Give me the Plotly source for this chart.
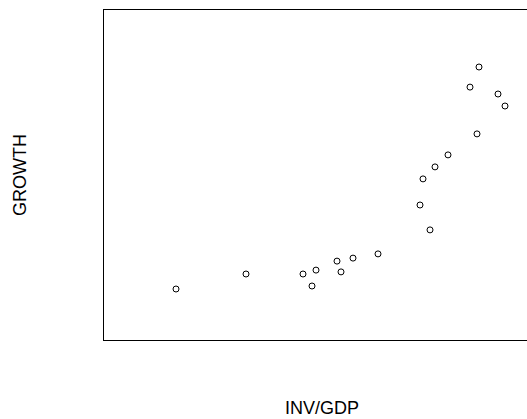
import plotly.graph_objects as go

# INV/GDP (%) and GROWTH (%) values
inv_gdp = [12.2, 19.2, 24.9, 26.2, 25.8, 28.3, 28.7, 29.9, 32.4, 36.6,
           36.9, 37.6, 38.1, 39.4, 42.3, 41.6, 42.5, 44.4, 45.1]
growth = [-0.30, 0.20, 0.20, 0.33, -0.20, 0.63, 0.27, 0.73, 0.87, 2.50,
          3.37, 1.67, 3.77, 4.17, 4.87, 6.43, 7.10, 6.20, 5.80]

x_title = "INV/GDP"
y_title = "GROWTH"

W, H = 527, 419
L, R, T, B = 104, 0, 10, 79
pw, ph = W - L - R, H - T - B

fig = go.Figure(go.Scatter(
    x=inv_gdp, y=growth, mode="markers",
    marker=dict(symbol="circle-open", size=6, color="black", line=dict(width=1, color="black")),
    showlegend=False, hoverinfo="skip"))

fig.update_layout(
    width=W, height=H,
    margin=dict(l=L, r=R, t=T, b=B, pad=0),
    paper_bgcolor="white", plot_bgcolor="white",
    font=dict(family="Liberation Sans, Arial, sans-serif", size=18, color="black"),
    xaxis=dict(range=[5, 5 + pw / 10], showline=True, mirror=True, linecolor="black", linewidth=1,
               showgrid=False, zeroline=False, showticklabels=False, ticks=""),
    yaxis=dict(range=[9 - ph / 30, 9], showline=True, mirror=False, linecolor="black", linewidth=1,
               showgrid=False, zeroline=False, showticklabels=False, ticks=""),
    annotations=[
        dict(text=x_title, xref="paper", yref="paper",
             x=(322 - L) / pw, y=(H - B - 408) / ph, showarrow=False,
             xanchor="center", yanchor="middle", font=dict(size=18), borderpad=0),
        dict(text=y_title, xref="paper", yref="paper",
             x=(20 - L) / pw, y=(H - B - 175) / ph, showarrow=False, textangle=-90,
             xanchor="center", yanchor="middle", font=dict(size=18)),
    ],
)

fig.write_html("out.html")
